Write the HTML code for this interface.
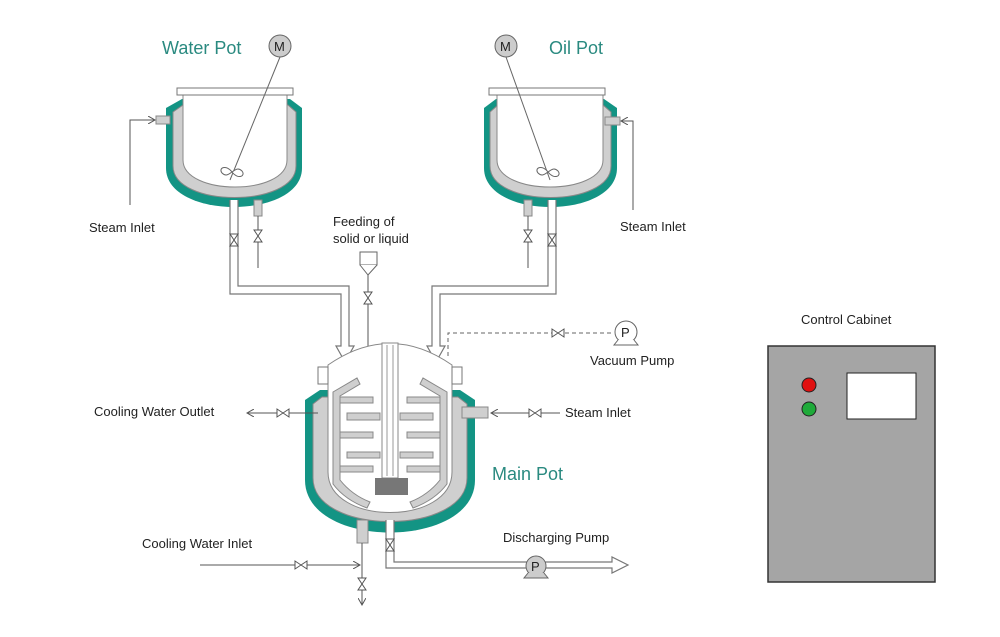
<!DOCTYPE html>
<html><head><style>
body{margin:0;background:#fff}
svg{display:block}
text{font-family:"Liberation Sans",sans-serif;font-size:13px;fill:#222}
.t{fill:#2a8a80;font-size:18px}
.p{fill:#fff;stroke:#777;stroke-width:1.2}
.l{stroke:#555;stroke-width:1;fill:none}
.g{fill:#cfcfcf;stroke:#888;stroke-width:1}
.tl{fill:#139484}
</style></head><body>
<svg width="1000" height="637" viewBox="0 0 1000 637">
<defs>
<marker id="a" markerWidth="8" markerHeight="8" refX="7" refY="4" orient="auto"><path d="M0,0 L7,4 L0,8" fill="none" stroke="#555"/></marker>
<g id="v"><path d="M-4,-6 L4,-6 L-4,6 L4,6 Z" fill="#fff" stroke="#555"/></g>
<g id="vh"><path d="M-6,-4 L-6,4 L6,-4 L6,4 Z" fill="#fff" stroke="#555"/></g>
<g id="imp"><path d="M0,0 C-6,-8 -14,-4 -10,1 C-6,5 -3,2 0,0 C3,-2 6,-5 10,-1 C14,4 6,8 0,0 Z" fill="#fff" stroke="#666"/></g>
</defs>

<!-- WATER POT -->
<text class="t" x="162" y="54">Water Pot</text>
<circle cx="280" cy="46" r="11" fill="#ccc" stroke="#666"/><text x="274" y="51" font-size="13">M</text>
<path class="tl" d="M166,108 L182,99 L290,99 L302,108 L302,168 C302,220 166,220 166,168 Z"/>
<path class="g" d="M173,112 L183,105 L288,105 L296,112 L296,166 C296,208 173,208 173,166 Z"/>
<path d="M183,94 L287,94 L287,160 C287,196 183,196 183,160 Z" fill="#fff" stroke="#888"/>
<rect x="177" y="88" width="116" height="7" fill="#fff" stroke="#777"/>
<line x1="280" y1="57" x2="230" y2="180" stroke="#666"/>
<use href="#imp" x="232" y="172"/>
<rect x="156" y="116" width="14" height="8" class="g"/>
<path class="l" d="M130,205 L130,120 L155,120" marker-end="url(#a)"/>
<text x="89" y="232">Steam Inlet</text>
<path class="p" d="M230,200 L230,294 L341,294 L341,346 L336,346 L345,362 L354,346 L349,346 L349,286 L238,286 L238,200"/>
<rect x="254" y="200" width="8" height="16" class="g"/>
<line class="l" x1="258" y1="216" x2="258" y2="268"/>
<use href="#v" x="258" y="236"/>
<use href="#v" x="234" y="240"/>

<!-- OIL POT -->
<text class="t" x="549" y="54">Oil Pot</text>
<circle cx="506" cy="46" r="11" fill="#ccc" stroke="#666"/><text x="500" y="51" font-size="13">M</text>
<path class="tl" d="M484,108 L496,99 L604,99 L617,108 L617,168 C617,220 484,220 484,168 Z"/>
<path class="g" d="M490,112 L498,105 L603,105 L611,112 L611,166 C611,208 490,208 490,166 Z"/>
<path d="M497,94 L603,94 L603,160 C603,196 497,196 497,160 Z" fill="#fff" stroke="#888"/>
<rect x="489" y="88" width="116" height="7" fill="#fff" stroke="#777"/>
<line x1="506" y1="57" x2="550" y2="180" stroke="#666"/>
<use href="#imp" x="548" y="172"/>
<rect x="605" y="117" width="15" height="8" class="g"/>
<path class="l" d="M633,210 L633,121 L621,121" marker-end="url(#a)"/>
<text x="620" y="231">Steam Inlet</text>
<path class="p" d="M556,200 L556,294 L440,294 L440,346 L445,346 L436,362 L427,346 L432,346 L432,286 L548,286 L548,200"/>
<rect x="524" y="200" width="8" height="16" class="g"/>
<line class="l" x1="528" y1="216" x2="528" y2="268"/>
<use href="#v" x="528" y="236"/>
<use href="#v" x="552" y="240"/>

<!-- FEEDING -->
<text x="333" y="226">Feeding of</text>
<text x="333" y="243">solid or liquid</text>
<rect x="360" y="252" width="17" height="13" fill="#fff" stroke="#666"/>
<path d="M360,265 L368,275 L377,265" fill="#fff" stroke="#666"/>
<line class="l" x1="368" y1="275" x2="368" y2="357" marker-end="url(#a)"/>
<use href="#v" x="368" y="298"/>

<!-- MAIN POT -->
<path class="tl" d="M305,400 L320,390 L460,390 L475,400 L475,480 C475,550 305,550 305,480 Z"/>
<path class="g" d="M313,404 L322,397 L458,397 L467,404 L467,478 C467,536 313,536 313,478 Z"/>
<path d="M328,365 Q390,322 452,365 L452,472 C452,526 328,526 328,472 Z" fill="#fff" stroke="#888"/>
<rect x="318" y="367" width="10" height="17" fill="#fff" stroke="#777"/>
<rect x="452" y="367" width="10" height="17" fill="#fff" stroke="#777"/>
<g class="g">
<path d="M333,392 L357,378 L360,384 L340,396 L340,480 Q352,495 370,502 L367,508 Q345,500 333,484 Z"/>
<path d="M447,392 L423,378 L420,384 L440,396 L440,480 Q428,495 410,502 L413,508 Q435,500 447,484 Z"/>
<rect x="340" y="397" width="33" height="6"/><rect x="407" y="397" width="33" height="6"/>
<rect x="347" y="413" width="33" height="7"/><rect x="400" y="413" width="33" height="7"/>
<rect x="340" y="432" width="33" height="6"/><rect x="407" y="432" width="33" height="6"/>
<rect x="347" y="452" width="33" height="6"/><rect x="400" y="452" width="33" height="6"/>
<rect x="340" y="466" width="33" height="6"/><rect x="407" y="466" width="33" height="6"/>
</g>
<rect x="382" y="343" width="16" height="135" fill="#fff" stroke="#888"/>
<line x1="387" y1="345" x2="387" y2="476" stroke="#999"/><line x1="393" y1="345" x2="393" y2="476" stroke="#999"/>
<rect x="375" y="478" width="33" height="17" fill="#777"/>
<rect x="462" y="407" width="26" height="11" class="g"/>
<rect x="357" y="520" width="11" height="23" class="g"/>
<path class="p" d="M386,520 L386,568 L612,568 L612,573 L628,565 L612,557 L612,562 L394,562 L394,520"/>
<use href="#v" x="390" y="545"/>
<circle cx="536" cy="566" r="10" fill="#ccc" stroke="#666"/><text x="531" y="571">P</text>
<path d="M528,573 L524,578 L548,578 L544,573" fill="#ccc" stroke="#666"/>
<text x="503" y="542">Discharging Pump</text>
<line class="l" x1="362" y1="543" x2="362" y2="605" marker-end="url(#a)"/>
<use href="#v" x="362" y="584"/>
<line class="l" x1="200" y1="565" x2="360" y2="565" marker-end="url(#a)"/>
<use href="#vh" x="301" y="565"/>
<text x="142" y="548">Cooling Water Inlet</text>
<line class="l" x1="318" y1="413" x2="247" y2="413" marker-end="url(#a)"/>
<use href="#vh" x="283" y="413"/>
<text x="94" y="416">Cooling Water Outlet</text>
<line class="l" x1="560" y1="413" x2="491" y2="413" marker-end="url(#a)"/>
<use href="#vh" x="535" y="413"/>
<text x="565" y="417">Steam Inlet</text>
<path d="M448,356 L448,333 L614,333" fill="none" stroke="#666" stroke-dasharray="4,3"/>
<use href="#vh" x="558" y="333"/>
<circle cx="626" cy="332" r="11" fill="#fff" stroke="#666"/><text x="621" y="337">P</text>
<path d="M618,340 L614,345 L638,345 L634,340" fill="#fff" stroke="#666"/>
<text x="590" y="365">Vacuum Pump</text>
<text class="t" x="492" y="480">Main Pot</text>

<text x="801" y="324">Control Cabinet</text>
<rect x="768" y="346" width="167" height="236" fill="#a5a5a5" stroke="#333" stroke-width="1.5"/>
<circle cx="809" cy="385" r="7" fill="#e01010" stroke="#222"/>
<circle cx="809" cy="409" r="7" fill="#1faa3a" stroke="#222"/>
<rect x="847" y="373" width="69" height="46" fill="#fff" stroke="#222"/>
</svg>
</body></html>
